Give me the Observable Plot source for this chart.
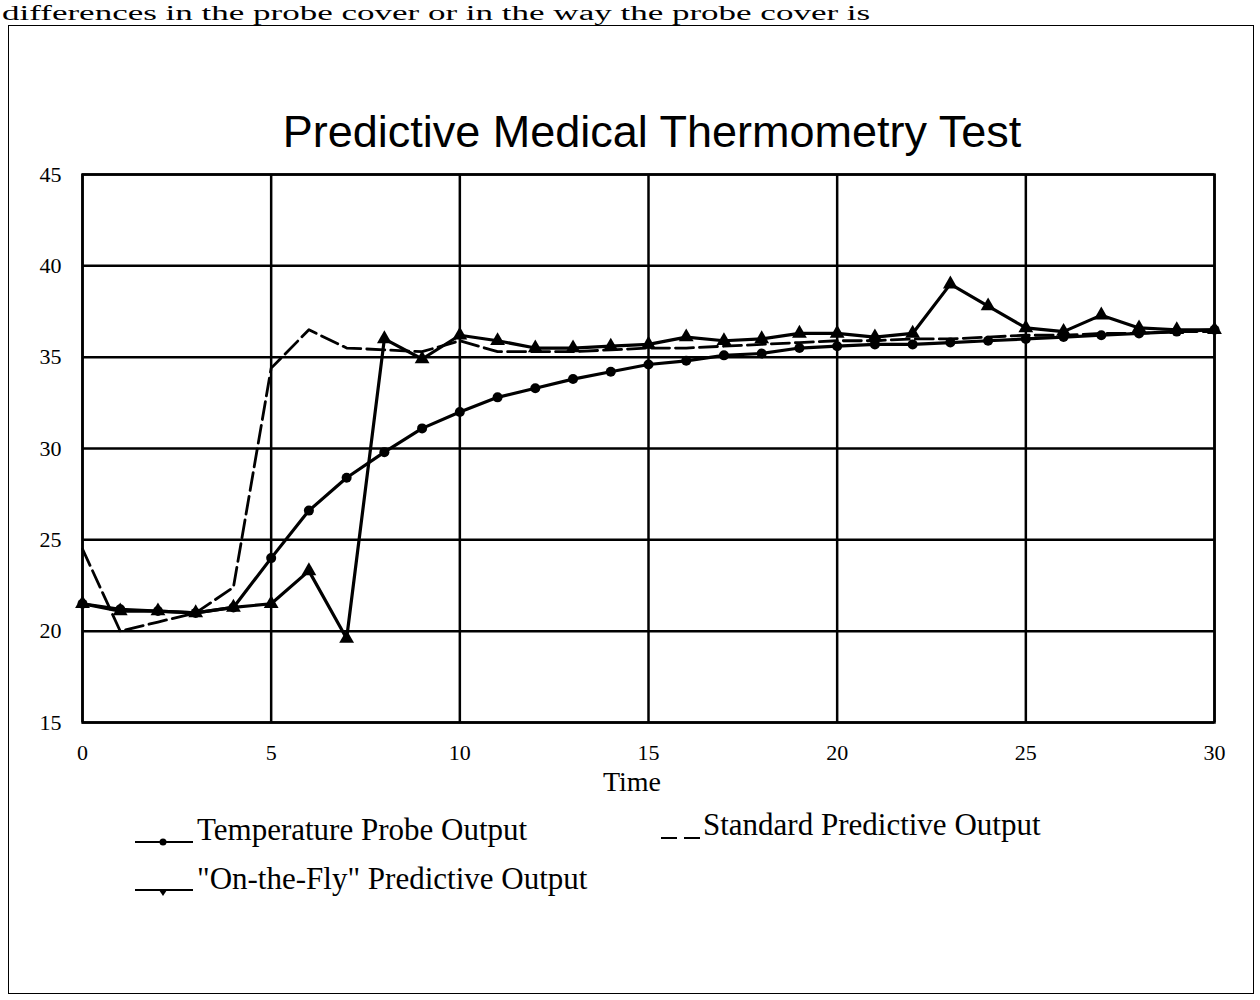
<!DOCTYPE html>
<html>
<head>
<meta charset="utf-8">
<script src="https://cdn.jsdelivr.net/npm/d3@7"></script>
<script src="https://cdn.jsdelivr.net/npm/@observablehq/plot@0.6"></script>
<style>
  html, body { margin: 0; padding: 0; background: #fff; }
  #page { position: relative; width: 1260px; height: 1000px; overflow: hidden; background: #fff; font-family: "Liberation Serif", "DejaVu Serif", serif; color: #000; }
  #doc { position: absolute; left: 2px; top: 3px; font-size: 20px; line-height: 20px; white-space: nowrap; transform-origin: left top; transform: scaleX(1.75); }
  #box { position: absolute; left: 8px; top: 25px; width: 1246px; height: 969px; border: 1.5px solid #000; box-sizing: border-box; }
  #title { position: absolute; left: 0; width: 1304px; top: 106px; text-align: center; font-family: "Liberation Sans", Arial, sans-serif; font-size: 45px; white-space: nowrap; }
  #chart { position: absolute; left: 0; top: 160px; }
  #xlabel { position: absolute; left: 0; width: 1264px; top: 766px; text-align: center; font-size: 28px; }
  .leg { position: absolute; font-size: 31px; white-space: nowrap; }
  .sw { position: absolute; }
</style>
</head>
<body>
<div id="page">
  <div id="doc">differences in the probe cover or in the way the probe cover is</div>
  <div id="box"></div>
  <div id="title">Predictive Medical Thermometry Test</div>
  <div id="chart"></div>
  <div id="xlabel">Time</div>
  <svg class="sw" style="left:133px;top:824px" width="64" height="30"><line x1="2" y1="18" x2="60" y2="18" stroke="#000" stroke-width="1.8"/><circle cx="30" cy="18" r="3.5" fill="#000"/></svg>
  <div class="leg" style="left:197px;top:812px">Temperature Probe Output</div>
  <svg class="sw" style="left:660px;top:818px" width="44" height="30"><line x1="1" y1="20" x2="42" y2="20" stroke="#000" stroke-width="1.8" stroke-dasharray="16,7"/></svg>
  <div class="leg" style="left:703px;top:807px">Standard Predictive Output</div>
  <svg class="sw" style="left:133px;top:874px" width="64" height="30"><line x1="2" y1="16" x2="60" y2="16" stroke="#000" stroke-width="1.8"/><path d="M26,16 L34,16 L30,22 Z" fill="#000"/></svg>
  <div class="leg" style="left:197px;top:861px">"On-the-Fly" Predictive Output</div>
</div>
<script>
// Data
const time = [0,1,2,3,4,5,6,7,8,9,10,11,12,13,14,15,16,17,18,19,20,21,22,23,24,25,26,27,28,29,30];
const probeOutput = [21.5,21.2,21.1,21.0,21.3,24.0,26.6,28.4,29.8,31.1,32.0,32.8,33.3,33.8,34.2,34.6,34.8,35.1,35.2,35.5,35.6,35.7,35.7,35.8,35.9,36.0,36.1,36.2,36.3,36.4,36.5];
const standardPredictive = [24.5,20.0,20.5,21.0,22.4,34.4,36.5,35.5,35.4,35.3,35.9,35.3,35.3,35.3,35.4,35.5,35.5,35.6,35.7,35.8,35.9,35.9,36.0,36.0,36.1,36.2,36.2,36.3,36.3,36.4,36.4];
const onTheFlyPredictive = [21.5,21.1,21.1,21.0,21.3,21.5,23.3,19.6,36.0,34.9,36.2,35.9,35.5,35.5,35.6,35.7,36.1,35.9,36.0,36.3,36.3,36.1,36.3,39.0,37.8,36.6,36.4,37.3,36.6,36.5,36.5];
const xTicks = [0,5,10,15,20,25,30];
const yTicks = [15,20,25,30,35,40,45];

const chart = Plot.plot({
  width: 1260,
  height: 620,
  marginTop: 14,
  marginBottom: 58,
  marginLeft: 82,
  marginRight: 46,
  style: { fontFamily: "Liberation Serif, serif", fontSize: "22px", color: "#000", background: "transparent" },
  x: { domain: [0, 30], ticks: xTicks, tickSize: 0, tickPadding: 22, label: null, tickFormat: d => String(d) },
  y: { domain: [15, 45], ticks: yTicks, tickSize: 0, tickPadding: 21, label: null, tickFormat: d => String(d) },
  marks: [
    Plot.gridX(xTicks, { stroke: "#000", strokeOpacity: 1, strokeWidth: 2.5 }),
    Plot.gridY(yTicks, { stroke: "#000", strokeOpacity: 1, strokeWidth: 2.5 }),
    Plot.frame({ stroke: "#000", strokeWidth: 2.5 }),
    Plot.line(standardPredictive, { x: (d, i) => time[i], y: d => d, stroke: "#000", strokeWidth: 2.8, strokeDasharray: "18,6" }),
    Plot.line(probeOutput, { x: (d, i) => time[i], y: d => d, stroke: "#000", strokeWidth: 3.2 }),
    Plot.dot(probeOutput, { x: (d, i) => time[i], y: d => d, r: 5, fill: "#000", stroke: "none" }),
    Plot.line(onTheFlyPredictive, { x: (d, i) => time[i], y: d => d, stroke: "#000", strokeWidth: 3.2 }),
    Plot.dot(onTheFlyPredictive, { x: (d, i) => time[i], y: d => d, symbol: "triangle", r: 5.5, fill: "#000", stroke: "none" })
  ]
});
document.getElementById("chart").appendChild(chart);
</script>
</body>
</html>
